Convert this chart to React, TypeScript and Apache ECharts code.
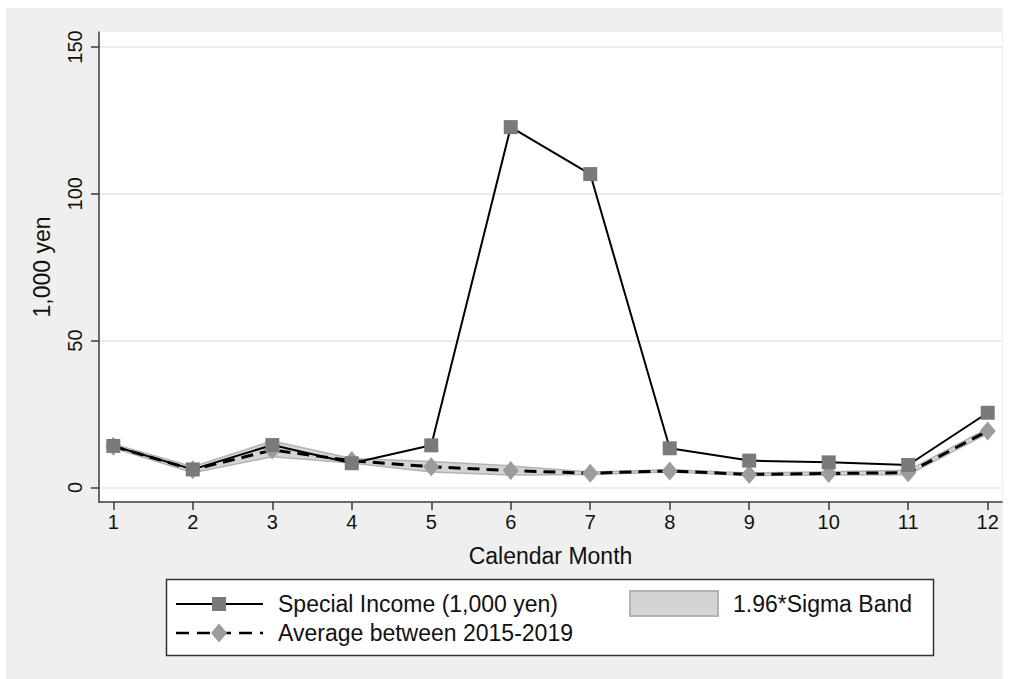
import React, { useEffect, useRef } from "react";
import * as echarts from "echarts";

const months = [1, 2, 3, 4, 5, 6, 7, 8, 9, 10, 11, 12];
const specialIncome = [14.1, 6.1, 14.4, 8.2, 14.3, 122.7, 106.7, 13.3, 9.1, 8.5, 7.6, 25.4];
const average2015to2019 = [14.0, 6.0, 12.7, 9.1, 7.0, 5.7, 4.8, 5.6, 4.4, 4.7, 5.0, 19.2];
const bandLower = [13.4, 5.0, 10.4, 8.3, 5.2, 4.2, 4.4, 5.2, 4.0, 4.2, 4.3, 18.3];
const bandUpper = [14.8, 7.0, 15.8, 9.8, 8.8, 7.3, 5.2, 6.0, 4.9, 5.3, 5.8, 20.0];
const yTicks = [0, 50, 100, 150];
const legendLabels = ["Special Income (1,000 yen)", "Average between 2015-2019", "1.96*Sigma Band"];

const FONT = "'Liberation Sans', Arial, Helvetica, sans-serif";

export default function App() {
  const ref = useRef<HTMLDivElement>(null);
  useEffect(() => {
    if (!ref.current) return;
    const chart = echarts.init(ref.current, null, { renderer: "svg" });
    const textColor = "#111";
    const option: any = {
      animation: false,
      backgroundColor: "transparent",
      textStyle: { fontFamily: FONT },
      grid: {
        left: 99,
        right: 12,
        top: 32,
        bottom: 177,
        show: true,
        backgroundColor: "#ffffff",
        borderWidth: 0,
      },
      xAxis: {
        type: "value",
        min: 0.82,
        max: 12.18,
        name: "Calendar Month",
        nameLocation: "middle",
        nameGap: 42,
        nameTextStyle: { fontSize: 23, color: textColor, fontFamily: FONT },
        axisLine: { show: true, onZero: false, lineStyle: { color: "#3a3a3a", width: 1.5 } },
        axisTick: { show: true, customValues: months, length: 8, lineStyle: { color: "#3a3a3a", width: 1.5 } },
        axisLabel: { customValues: months, fontSize: 20, color: textColor, margin: 10, fontFamily: FONT },
        splitLine: { show: false },
      },
      yAxis: {
        type: "value",
        min: -5,
        max: 155.1,
        name: "1,000 yen",
        nameLocation: "middle",
        nameRotate: 90,
        nameGap: 46,
        nameTextStyle: { fontSize: 23, color: textColor, fontFamily: FONT },
        axisLine: { show: true, onZero: false, lineStyle: { color: "#3a3a3a", width: 1.5 } },
        axisTick: { show: true, customValues: yTicks, length: 8, lineStyle: { color: "#3a3a3a", width: 1.5 } },
        axisLabel: { customValues: yTicks, rotate: 90, fontSize: 20, color: textColor, margin: 14, fontFamily: FONT },
        splitLine: { show: true, lineStyle: { color: "#e6e6e6", width: 1.5 } },
      },
      series: [
        {
          type: "custom",
          name: legendLabels[2],
          silent: true,
          z: 1,
          data: [[1, 0]],
          renderItem: (_params: any, api: any) => {
            const pts: number[][] = [];
            for (let i = 0; i < months.length; i++) pts.push(api.coord([months[i], bandUpper[i]]));
            for (let i = months.length - 1; i >= 0; i--) pts.push(api.coord([months[i], bandLower[i]]));
            return {
              type: "polygon",
              shape: { points: pts },
              style: { fill: "#d4d4d4", stroke: "#b3b3b3", lineWidth: 1.5 },
            };
          },
        },
        {
          type: "line",
          name: legendLabels[1],
          z: 2,
          data: months.map((m, i) => [m, average2015to2019[i]]),
          symbol: "diamond",
          symbolSize: [16, 19],
          itemStyle: { color: "#9c9c9c" },
          lineStyle: { color: "#000", width: 3, type: [12, 7] },
        },
        {
          type: "line",
          name: legendLabels[0],
          z: 3,
          data: months.map((m, i) => [m, specialIncome[i]]),
          symbol: "rect",
          symbolSize: 14,
          itemStyle: { color: "#7a7a7a" },
          lineStyle: { color: "#000", width: 2 },
        },
      ],
      graphic: [
        {
          type: "rect",
          shape: { x: 166.5, y: 579.5, width: 767, height: 76 },
          style: { fill: "#ffffff", stroke: "#333", lineWidth: 1.5 },
        },
        { type: "line", shape: { x1: 176, y1: 604, x2: 263, y2: 604 }, style: { stroke: "#000", lineWidth: 2 } },
        { type: "rect", shape: { x: 212, y: 597, width: 14, height: 14 }, style: { fill: "#7a7a7a" } },
        {
          type: "text",
          x: 278,
          y: 604,
          style: { text: legendLabels[0], fontSize: 23, fontFamily: FONT, fill: textColor, verticalAlign: "middle" },
        },
        {
          type: "line",
          shape: { x1: 176, y1: 633, x2: 263, y2: 633 },
          style: { stroke: "#000", lineWidth: 2.5, lineDash: [13, 8] },
        },
        {
          type: "polygon",
          shape: { points: [[219, 623.5], [227, 633], [219, 642.5], [211, 633]] },
          style: { fill: "#9c9c9c" },
        },
        {
          type: "text",
          x: 278,
          y: 633,
          style: { text: legendLabels[1], fontSize: 23, fontFamily: FONT, fill: textColor, verticalAlign: "middle" },
        },
        {
          type: "rect",
          shape: { x: 630, y: 591, width: 88, height: 25 },
          style: { fill: "#d4d4d4", stroke: "#b3b3b3", lineWidth: 2 },
        },
        {
          type: "text",
          x: 733,
          y: 604,
          style: { text: legendLabels[2], fontSize: 23, fontFamily: FONT, fill: textColor, verticalAlign: "middle" },
        },
      ],
    };
    chart.setOption(option);
    return () => chart.dispose();
  }, []);

  return (
    <div style={{ position: "absolute", left: 0, top: 0, width: 1014, height: 679, background: "#ffffff" }}>
      <div style={{ position: "absolute", left: 6, top: 8, width: 997, height: 671, background: "#efefef" }} />
      <div ref={ref} style={{ position: "absolute", left: 0, top: 0, width: 1014, height: 679 }} />
    </div>
  );
}
